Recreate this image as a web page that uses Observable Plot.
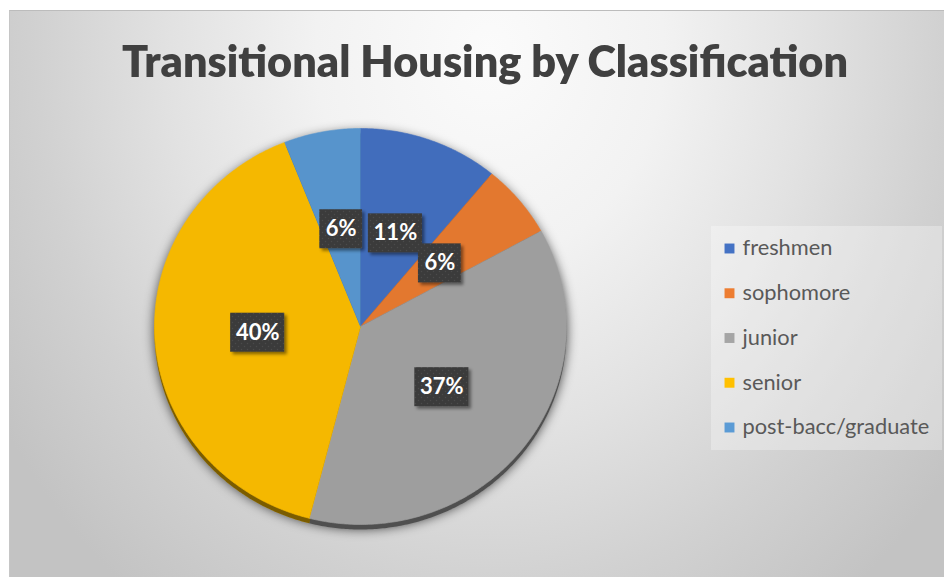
<!DOCTYPE html>
<html><head><meta charset="utf-8">
<script src="https://cdn.jsdelivr.net/npm/d3@7"></script>
<script src="https://cdn.jsdelivr.net/npm/@observablehq/plot@0.6"></script>
<style>
body{margin:0;background:#fff;font-family:Lato,sans-serif;}
#wrap{position:relative;width:945px;height:577px;overflow:hidden;}
#bg{position:absolute;left:9px;top:10px;width:935px;height:567px;box-sizing:border-box;border-top:1px solid #bcbcbc;border-left:1px solid #c6c6c6;
background:radial-gradient(ellipse 580px 690px at 480px 40px,#fbfbfb 0%,#f2f2f2 30%,#e2e2e2 55%,#d1d1d1 78%,#c3c3c3 100%);}
#title{position:absolute;left:122px;top:39px;font:800 43px Lato,sans-serif;color:#404040;white-space:nowrap;line-height:1;transform-origin:0 0;}
#plot{position:absolute;left:0;top:0;}
</style></head>
<body>
<div id="wrap"><div id="bg"></div><div id="title"></div><div id="plot"></div></div>
<svg width="0" height="0" style="position:absolute"><defs>
<filter id="pieShadow" x="-20%" y="-20%" width="140%" height="140%"><feGaussianBlur stdDeviation="6"/></filter>
<filter id="boxShadow" x="-30%" y="-30%" width="160%" height="160%"><feDropShadow dx="2.5" dy="2.5" stdDeviation="1.5" flood-color="#000" flood-opacity="0.45"/></filter>
<pattern id="dots" width="6" height="6" patternUnits="userSpaceOnUse"><rect width="6" height="6" fill="#3a3a3a"/><circle cx="1.5" cy="1.5" r="0.8" fill="#4b4b4b"/><circle cx="4.5" cy="4.5" r="0.8" fill="#4b4b4b"/></pattern>
</defs></svg>
<script>
// ---- data ----
const categories = ["freshmen", "sophomore", "junior", "senior", "post-bacc/graduate"];
const shares = [11, 6, 37, 40, 6];
const labelTexts = ["11%", "6%", "37%", "40%", "6%"];
const colors = ["#4472C4", "#ED7D31", "#A5A5A5", "#FFC000", "#5B9BD5"];
const titleText = "Transitional Housing by Classification";

// ---- layout ----
const W = 945, H = 577;
const pie = {cx: 360, cy: 326, rx: 206, ry: 198, depth: 5, labelR: 0.5};
const legend = {x: 729, textX: 742, y0: 248, step: 44.75, box: {x1: 711, x2: 942, y1: 226, y2: 450}};

const rows = categories.map((c, i) => ({cat: c, share: shares[i], label: labelTexts[i], i}));
const arcs = d3.pie().sort(null).value(d => d.share)(rows);

function slicePoints(a, dy) {
  const pts = [{cat: a.data.cat, x: pie.cx, y: pie.cy + dy}];
  const n = Math.max(2, Math.ceil((a.endAngle - a.startAngle) / 0.01));
  for (let k = 0; k <= n; k++) {
    const t = a.startAngle + (a.endAngle - a.startAngle) * k / n;
    pts.push({cat: a.data.cat, x: pie.cx + pie.rx * Math.sin(t), y: pie.cy + dy - pie.ry * Math.cos(t)});
  }
  return pts;
}
const topPts = arcs.flatMap(a => slicePoints(a, 0));
const depthPts = arcs.flatMap(a => slicePoints(a, pie.depth));
const shadowPts = arcs.flatMap(a => slicePoints(a, 4));

const charW = ch => ch === "%" ? 17.5 : 11.3;
const labels = arcs.map(a => {
  const m = (a.startAngle + a.endAngle) / 2;
  const w = 14 + [...a.data.label].reduce((s, ch) => s + charW(ch), 0);
  return {cat: a.data.cat, label: a.data.label, w, h: 39,
    x: pie.cx + pie.labelR * pie.rx * Math.sin(m), y: pie.cy - pie.labelR * pie.ry * Math.cos(m)};
});
const legendRows = rows.map(r => ({...r, y: legend.y0 + r.i * legend.step}));

const svg = Plot.plot({
  width: W, height: H, margin: 0,
  x: {domain: [0, W], range: [0, W], axis: null},
  y: {domain: [0, H], range: [0, H], axis: null},
  color: {domain: categories, range: colors},
  style: {background: "transparent", overflow: "visible"},
  marks: [
    Plot.line(shadowPts, {x: "x", y: "y", z: "cat", fill: "#000", fillOpacity: 0.75, stroke: "none"}),
    Plot.line(depthPts, {x: "x", y: "y", z: "cat", fill: "cat", stroke: "none"}),
    Plot.line(depthPts, {x: "x", y: "y", z: "cat", fill: "#000", fillOpacity: 0.52, stroke: "none"}),
    Plot.line(topPts, {x: "x", y: "y", z: "cat", fill: "cat", stroke: "cat", strokeWidth: 0.6}),
    Plot.line(topPts, {x: "x", y: "y", z: "cat", fill: "#000", fillOpacity: 0.04, stroke: "none"}),
    Plot.rect([legend.box], {x1: "x1", x2: "x2", y1: "y1", y2: "y2", fill: "#fff", fillOpacity: 0.3}),
    Plot.dot(legendRows, {x: legend.x, y: "y", symbol: "square", r: 5.6, fill: "cat", stroke: "none"}),
    Plot.text(legendRows, {x: legend.textX, y: "y", text: "cat", textAnchor: "start", fill: "#595959", fontSize: 21.8, fontFamily: "Lato"}),
    Plot.rect(labels, {x1: d => d.x - d.w / 2, x2: d => d.x + d.w / 2, y1: d => d.y - d.h / 2, y2: d => d.y + d.h / 2, fill: "url(#dots)"}),
    Plot.text(labels, {x: "x", y: "y", text: "label", fill: "#fff", fontSize: 22, fontWeight: "bold", fontFamily: "Lato"})
  ]
});
const groups = svg.querySelectorAll(":scope > g");
groups[0].setAttribute("filter", "url(#pieShadow)");
groups[8].setAttribute("filter", "url(#boxShadow)");
document.getElementById("plot").appendChild(svg);

const t = document.getElementById("title");
t.textContent = titleText;
function fit() { t.style.transform = "none"; const w = t.getBoundingClientRect().width; t.style.transform = `scaleX(${726 / w})`; }
fit();
if (document.fonts) document.fonts.ready.then(fit);
</script>
</body></html>
